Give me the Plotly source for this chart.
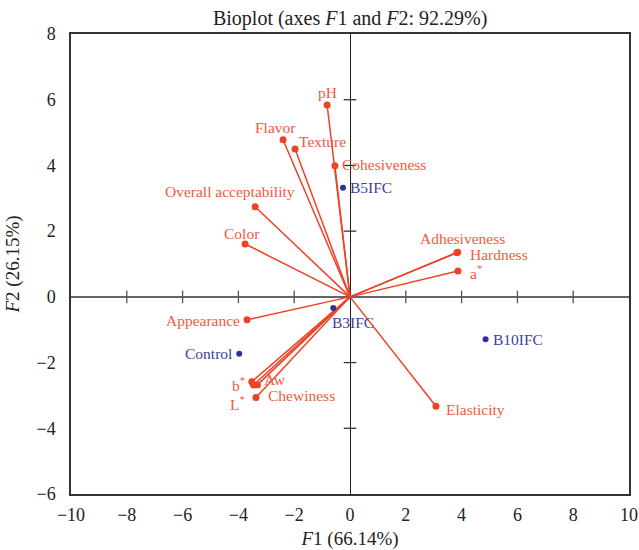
import plotly.graph_objects as go

# Variables (vectors)
var_names = ["pH", "Flavor", "Texture", "Cohesiveness", "Overall acceptability", "Color",
             "Adhesiveness", "Hardness", "a<sup>*</sup>", "Appearance", "b<sup>*</sup>",
             "Aw", "L<sup>*</sup>", "Chewiness", "Elasticity"]
var_f1 = [-0.82, -2.40, -1.97, -0.54, -3.40, -3.76, 3.83, 3.86, 3.87, -3.69, -3.52, -3.32, -3.46, -3.37, 3.08]
var_f2 = [5.84, 4.78, 4.50, 3.99, 2.74, 1.61, 1.34, 1.36, 0.79, -0.70, -2.58, -2.68, -2.68, -3.06, -3.33]

# Observations
obs_names = ["B5IFC", "B3IFC", "Control", "B10IFC"]
obs_f1 = [-0.25, -0.60, -3.97, 4.86]
obs_f2 = [3.32, -0.34, -1.73, -1.29]

x_ticks = [-10, -8, -6, -4, -2, 0, 2, 4, 6, 8, 10]
y_ticks = [-6, -4, -2, 0, 2, 4, 6, 8]

# label placement styles (xanchor, xshift, yshift)
var_label_pos = [("center", 0, 12), ("center", -8, 12), ("left", 2, 8), ("left", 5, 1),
                 ("right", 42, 15), ("center", -3, 10), ("center", 6, 14), ("left", 10, -2),
                 ("left", 10, -1), ("right", -5, -1), ("right", -5, -2), ("left", 5, 5),
                 ("right", -6, -18), ("left", 10, 2), ("left", 8, -3)]
obs_label_pos = [("left", 5, 0), ("left", -3, -14), ("right", -5, 0), ("left", 5, 0)]

RED = "#ef4123"
RED_TXT = "#f05a40"
BLUE = "#2e3192"
BLUE_TXT = "#3d3f98"
FONT = "Liberation Serif"

fig = go.Figure()

# zero-line tick marks
fig.add_trace(go.Scatter(x=[v for v in x_ticks if v not in (0, -10, 10)], y=[0] * 8, mode="markers",
                         marker=dict(symbol="line-ns", size=9, line=dict(color="#555", width=1.3)),
                         hoverinfo="skip", showlegend=False))
fig.add_trace(go.Scatter(x=[0] * 6, y=[v for v in y_ticks if v not in (0, -6, 8)], mode="markers",
                         marker=dict(symbol="line-ew", size=9, line=dict(color="#333", width=1.3)),
                         hoverinfo="skip", showlegend=False))

# vectors
lx, ly = [], []
for a, b in zip(var_f1, var_f2):
    lx += [0, a, None]
    ly += [0, b, None]
fig.add_trace(go.Scatter(x=lx, y=ly, mode="lines", line=dict(color=RED, width=1.5),
                         hoverinfo="skip", showlegend=False))
fig.add_trace(go.Scatter(x=var_f1, y=var_f2, mode="markers", marker=dict(color=RED, size=7),
                         showlegend=False))
fig.add_trace(go.Scatter(x=obs_f1, y=obs_f2, mode="markers", marker=dict(color=BLUE, size=6),
                         showlegend=False))

anns = []
for n, a, b, (xa, xs, ys) in zip(var_names, var_f1, var_f2, var_label_pos):
    anns.append(dict(x=a, y=b, text=n, showarrow=False, xanchor=xa, yanchor="middle",
                     xshift=xs, yshift=ys, font=dict(family=FONT, size=15.5, color=RED_TXT)))
for n, a, b, (xa, xs, ys) in zip(obs_names, obs_f1, obs_f2, obs_label_pos):
    anns.append(dict(x=a, y=b, text=n, showarrow=False, xanchor=xa, yanchor="middle",
                     xshift=xs, yshift=ys, font=dict(family=FONT, size=15.5, color=BLUE_TXT)))

fig.update_layout(
    width=639, height=550,
    margin=dict(l=71, r=10, t=34, b=56, autoexpand=False),
    paper_bgcolor="white", plot_bgcolor="white",
    font=dict(family=FONT, size=18, color="#222"),
    title=dict(text="Bioplot (axes <i>F</i>1 and <i>F</i>2: 92.29%)", x=0.548, xanchor="center",
               y=0.967, yanchor="middle", font=dict(family=FONT, size=20, color="#222")),
    annotations=anns,
    xaxis=dict(range=[-10, 10], tickvals=x_ticks, ticktext=[str(v).replace("-", "\u2212") for v in x_ticks],
               showgrid=False, showline=True, mirror=True, linecolor="#333", linewidth=1.5,
               zeroline=True, zerolinecolor="#222", zerolinewidth=1.3, ticks="", automargin=False,
               ticklabelstandoff=4,
               title=dict(text="<i>F</i>1 (66.14%)", standoff=8, font=dict(size=19)),
               tickfont=dict(size=18)),
    yaxis=dict(range=[-6, 8], tickvals=y_ticks, ticktext=[str(v).replace("-", "\u2212") for v in y_ticks],
               showgrid=False, showline=True, mirror=True, linecolor="#333", linewidth=1.5,
               zeroline=True, zerolinecolor="#666", zerolinewidth=2.2, ticks="", automargin=False,
               ticklabelstandoff=10,
               title=dict(text="<i>F</i>2 (26.15%)", standoff=12, font=dict(size=19)),
               tickfont=dict(size=18)),
)

fig.write_html("out.html", config={"displayModeBar": False},
               post_script="document.body.style.margin='0';document.body.style.overflow='hidden';")
